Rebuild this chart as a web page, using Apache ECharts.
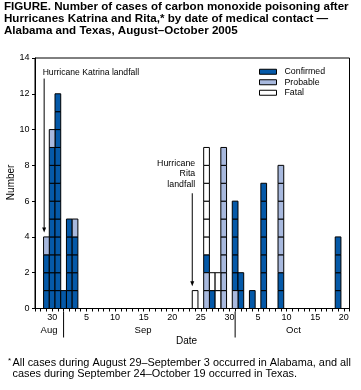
<!DOCTYPE html>
<html><head><meta charset="utf-8">
<script src="https://cdn.jsdelivr.net/npm/echarts@6/dist/echarts.min.js"></script>
<style>html,body{margin:0;padding:0;background:#fff}#c{width:361px;height:390px}</style>
</head><body><div id="c"></div>
<script>
// ---- data ----
const startDate = '2005-08-29';
const caseDates = ['2005-08-29','2005-08-30','2005-08-31','2005-09-01','2005-09-02','2005-09-03',
  '2005-09-24','2005-09-26','2005-09-27','2005-09-28','2005-09-29',
  '2005-10-01','2005-10-02','2005-10-04','2005-10-06','2005-10-09','2005-10-19'];
const confirmed = [3, 9, 12, 1, 5, 4, 0, 1, 1, 0, 0, 5, 2, 1, 7, 2, 4];
const probable  = [1, 1, 0, 0, 0, 1, 0, 2, 0, 0, 9, 1, 0, 0, 0, 6, 0];
const fatal     = [0, 0, 0, 0, 0, 0, 1, 6, 1, 2, 0, 0, 0, 0, 0, 0, 0];
// bottom-to-top order of the case types in each bar
const stackOrder = ['CP','CP','CP','CP','CP','CP','F','PCF','CF','F','P','PC','C','C','C','CP','C'];
const tickDates = ['2005-08-30','2005-09-05','2005-09-10','2005-09-15','2005-09-20','2005-09-25',
  '2005-09-30','2005-10-05','2005-10-10','2005-10-15','2005-10-20'];
const tickLabels = ['30','5','10','15','20','25','30','5','10','15','20'];
const monthLabels = ['Aug','Sep','Oct'];
const monthStarts = ['2005-09-01','2005-10-01'];
const landfalls = [{name:'Hurricane Katrina landfall', date:'2005-08-29'},
                   {name:'Hurricane\nRita\nlandfall', date:'2005-09-24'}];
const seriesNames = ['Confirmed','Probable','Fatal'];
const yTicks = [0,2,4,6,8,10,12,14];

// ---- helpers ----
const FONT = '"Liberation Sans", Arial, Helvetica, sans-serif';
const dayIndex = s => Math.round((Date.parse(s+'T00:00:00Z') - Date.parse(startDate+'T00:00:00Z'))/86400000);
const colors = {C:'#0559a8', P:'#a8b9de', F:'#ffffff'};
const vals = {C:confirmed, P:probable, F:fatal};
const keys = ['C','P','F'];
const labelMap = {};
tickDates.forEach((d,i)=>{ labelMap[dayIndex(d)] = tickLabels[i]; });

function buildData(T){
  const out = [];
  caseDates.forEach((ds,i)=>{
    let base = 0;
    for (const L of stackOrder[i]) {
      const n = vals[L][i];
      if (L === T && n > 0) out.push([dayIndex(ds), base, n]);
      base += n;
    }
  });
  return out;
}
function makeRender(fill){
  return function(params, api){
    const x = api.value(0), base = api.value(1), n = api.value(2);
    const w = api.size([1,0])[0];
    const children = [];
    for (let k=0;k<n;k++){
      const p0 = api.coord([x, base+k]);
      const p1 = api.coord([x, base+k+1]);
      children.push({type:'rect',
        shape:{x:p0[0]-w/2, y:p1[1], width:w, height:p0[1]-p1[1]},
        style:{fill:fill, stroke:'#000', lineWidth:1}});
    }
    return {type:'group', children};
  };
}

const chart = echarts.init(document.getElementById('c'), null, {renderer:'canvas'});
const series = keys.map((k,i)=>({
  name: seriesNames[i], type:'custom', renderItem: makeRender(colors[k]),
  encode:{x:0, y:1}, data: buildData(k),
  itemStyle:{color:colors[k], borderColor:'#000', borderWidth:1}
}));

chart.setOption({
  animation:false,
  textStyle:{fontFamily:FONT},
  title:{
    text:'FIGURE. Number of cases of carbon monoxide poisoning after\nHurricanes Katrina and Rita,* by date of medical contact —\nAlabama and Texas, August–October 2005',
    left:4, top:1, padding:0,
    textStyle:{fontFamily:FONT, fontSize:11.6, fontWeight:'bold', lineHeight:12, color:'#000'}
  },
  grid:{left:35, right:11.5, top:58, bottom:81.5, show:true, borderColor:'#000', borderWidth:1,
        containLabel:false, outerBoundsMode:'none'},
  legend:{
    orient:'vertical', left:259, top:66.5, padding:0, icon:'rect', itemWidth:17, itemHeight:5, itemGap:0,
    data:seriesNames.map((n,i)=>({name:n, itemStyle:{color:colors[keys[i]], borderColor:'#000', borderWidth:1}})),
    textStyle:{fontFamily:FONT, fontSize:8.8, lineHeight:10.5, color:'#000', padding:[0,0,0,3]}
  },
  xAxis:{
    type:'value', min:-2, max:53, interval:1,
    axisLine:{show:true, onZero:false, lineStyle:{color:'#000', width:1}},
    axisTick:{show:true, length:3, lineStyle:{color:'#000'}},
    axisLabel:{formatter:v=>labelMap[v]||'', fontFamily:FONT, fontSize:9, color:'#000', margin:5},
    splitLine:{show:false}
  },
  yAxis:{
    type:'value', min:yTicks[0], max:yTicks[yTicks.length-1], interval:2,
    axisLine:{show:true, onZero:false, lineStyle:{color:'#000', width:1}},
    axisTick:{show:true, length:3, lineStyle:{color:'#000'}},
    axisLabel:{fontFamily:FONT, fontSize:9, color:'#000', margin:5.5},
    splitLine:{show:false}
  },
  series: series
});

// ---- annotations positioned through the chart's own scales ----
const px = (d,v)=>chart.convertToPixel({gridIndex:0},[d,v]);
const g = [];
function arrow(d, vTop, vTip){
  const a = px(d, vTop), b = px(d, vTip);
  g.push({type:'line', shape:{x1:a[0], y1:a[1], x2:b[0], y2:b[1]-4}, style:{stroke:'#000', lineWidth:1}, silent:true, z:10});
  g.push({type:'polygon', shape:{points:[[b[0]-2,b[1]-5],[b[0]+2,b[1]-5],[b[0],b[1]]]}, style:{fill:'#000'}, silent:true, z:10});
}
// Katrina
{
  const d = dayIndex(landfalls[0].date) - 0.4;
  arrow(d, 12.85, 4.25);
  const t = px(d, 13.2);
  g.push({type:'text', x:t[0]-1.5, y:t[1], style:{text:landfalls[0].name, font:'8.6px '+FONT, fill:'#000', verticalAlign:'middle', align:'left'}});
}
// Rita
{
  const d = dayIndex(landfalls[1].date) - 0.5;
  arrow(d, 6.44, 1.25);
  const t = px(d, 8.4);
  g.push({type:'text', x:t[0]+3, y:t[1], style:{text:landfalls[1].name, font:'8.8px '+FONT, fill:'#000', verticalAlign:'top', align:'right', lineHeight:10.5}});
}
// month separators
const axisY = px(0,0)[1];
monthStarts.forEach(ms=>{
  const x = px(dayIndex(ms),0)[0];
  g.push({type:'line', shape:{x1:x, y1:axisY+3, x2:x, y2:axisY+29}, style:{stroke:'#000', lineWidth:1}});
});
// month labels
const monthPos = [0.45, 16.9, 43.2];
monthLabels.forEach((m,i)=>{
  const x = px(monthPos[i],0)[0];
  g.push({type:'text', x:x, y:axisY+22, style:{text:m, font:'9.5px '+FONT, fill:'#000', align:'center', verticalAlign:'middle'}});
});
// axis names
g.push({type:'text', x:px(24.5,0)[0], y:axisY+33, style:{text:'Date', font:'10px '+FONT, fill:'#000', align:'center', verticalAlign:'middle'}});
g.push({type:'text', x:11, y:px(0,7.05)[1], rotation:Math.PI/2, style:{text:'Number', font:'10px '+FONT, fill:'#000', align:'center', verticalAlign:'middle'}});
// footnote
g.push({type:'text', x:8, y:357, style:{text:'*', font:'8px '+FONT, fill:'#000', align:'left', verticalAlign:'top'}});
g.push({type:'text', x:12.5, y:357.5, style:{text:'All cases during August 29–September 3 occurred in Alabama, and all\ncases during September 24–October 19 occurred in Texas.', font:'10.9px '+FONT, fill:'#000', align:'left', verticalAlign:'top', lineHeight:11}});
chart.setOption({graphic:g});
</script>
</body></html>
